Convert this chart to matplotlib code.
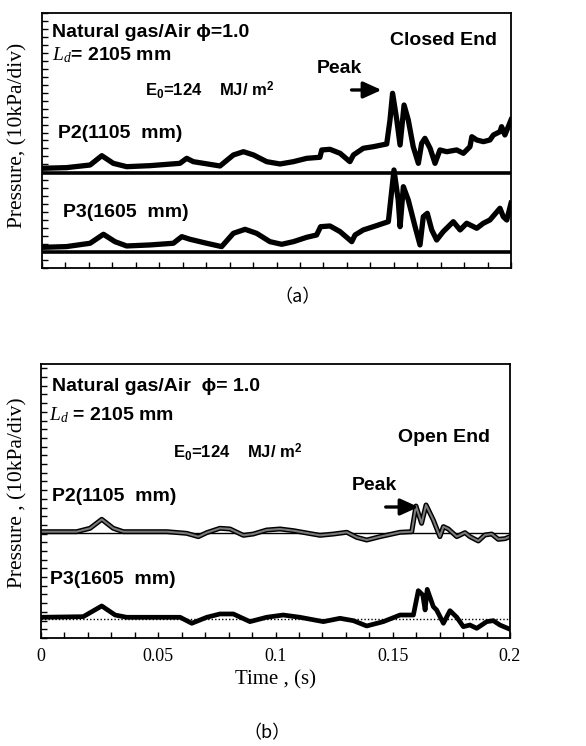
import numpy as np
import matplotlib.pyplot as plt
from matplotlib.ticker import MultipleLocator, NullFormatter

plt.rcParams.update({
    "font.family": ["Liberation Sans", "DejaVu Sans"],
    "mathtext.fontset": "custom",
    "mathtext.rm": "Liberation Sans",
    "mathtext.bf": "Liberation Sans:bold",
    "mathtext.it": "Liberation Serif:italic",
})

# ---- data (time in s, pressure in divisions) ----
# (a) closed end
t_a_p2 = [0.0, 0.0104, 0.0205, 0.0255, 0.0304, 0.0361, 0.0461, 0.0588, 0.0617, 0.0645,
          0.0759, 0.0816, 0.0859, 0.0902, 0.0958, 0.1015, 0.1072, 0.1129, 0.1185, 0.1193,
          0.1228, 0.1271, 0.1313, 0.1328, 0.1370, 0.1413, 0.1470, 0.1484, 0.1495, 0.1513,
          0.1527, 0.1544, 0.1562, 0.1583, 0.1605, 0.1619, 0.1633, 0.1655, 0.1676, 0.1697,
          0.1726, 0.1768, 0.1797, 0.1825, 0.1833, 0.1854, 0.1882, 0.1910, 0.1925, 0.1953,
          0.1960, 0.1974, 0.2000]
p_a_p2 = [12.51, 12.59, 12.92, 14.09, 13.13, 12.71, 12.84, 13.13, 13.76, 13.34,
          12.80, 14.18, 14.59, 14.18, 13.34, 13.05, 13.34, 13.76, 13.89, 14.81,
          14.89, 14.39, 13.34, 14.18, 15.02, 15.22, 15.56, 18.57, 21.92, 18.57,
          15.43, 20.45, 18.57, 15.22, 13.13, 15.64, 16.27, 15.02, 13.13, 14.81,
          14.59, 14.81, 14.39, 15.22, 16.47, 16.06, 15.85, 16.06, 16.69, 17.10,
          17.73, 16.69, 18.57]

t_a_p3 = [0.0, 0.0104, 0.0205, 0.0262, 0.0311, 0.0361, 0.0461, 0.0560, 0.0596, 0.0631,
          0.0702, 0.0766, 0.0816, 0.0866, 0.0915, 0.0972, 0.1022, 0.1072, 0.1129, 0.1171,
          0.1188, 0.1228, 0.1271, 0.1321, 0.1335, 0.1370, 0.1413, 0.1477, 0.1487, 0.1501,
          0.1519, 0.1527, 0.1541, 0.1562, 0.1591, 0.1612, 0.1626, 0.1643, 0.1662, 0.1683,
          0.1711, 0.1754, 0.1783, 0.1811, 0.1854, 0.1882, 0.1910, 0.1953, 0.1967, 0.1982,
          0.2000]
p_a_p3 = [2.59, 2.68, 3.10, 4.23, 3.30, 2.76, 2.89, 3.10, 3.93, 3.60,
          3.10, 2.68, 4.35, 4.85, 4.35, 3.30, 2.97, 3.30, 3.85, 4.14,
          5.18, 5.27, 4.56, 3.30, 4.14, 4.77, 5.18, 5.81, 8.53, 12.30,
          8.53, 5.18, 10.20, 8.53, 5.18, 2.89, 6.44, 6.86, 4.77, 3.51,
          4.56, 5.81, 4.77, 5.61, 4.98, 5.61, 6.02, 7.49, 6.44, 6.02,
          8.12]
base_a = [11.96, 2.05]

# (b) open end
t_b_p2 = [0.0, 0.0152, 0.0209, 0.0259, 0.0308, 0.0351, 0.0536, 0.0621, 0.0671, 0.0707,
          0.0763, 0.0806, 0.0863, 0.0905, 0.0962, 0.1019, 0.1076, 0.1190, 0.1247, 0.1304,
          0.1346, 0.1389, 0.1446, 0.1531, 0.1581, 0.1599, 0.1623, 0.1642, 0.1673, 0.1701,
          0.1716, 0.1737, 0.1773, 0.1808, 0.1829, 0.1865, 0.1893, 0.1922, 0.1950, 0.1979,
          0.2000]
p_b_p2 = [12.22, 12.22, 12.61, 13.64, 12.61, 12.22, 12.22, 12.03, 11.65, 12.11,
          12.61, 12.53, 11.80, 11.95, 12.41, 12.53, 12.34, 11.80, 11.95, 12.15,
          11.57, 11.26, 11.65, 12.15, 12.22, 15.17, 13.18, 15.29, 13.56, 11.65,
          12.80, 12.53, 11.65, 12.11, 11.65, 11.15, 11.84, 11.95, 11.34, 11.42,
          11.65]

t_b_p3 = [0.0, 0.0180, 0.0259, 0.0316, 0.0365, 0.0593, 0.0643, 0.0707, 0.0763, 0.0820,
          0.0891, 0.0962, 0.1033, 0.1104, 0.1204, 0.1275, 0.1332, 0.1389, 0.1460, 0.1531,
          0.1588, 0.1609, 0.1628, 0.1638, 0.1647, 0.1673, 0.1687, 0.1716, 0.1744, 0.1773,
          0.1801, 0.1829, 0.1858, 0.1901, 0.1929, 0.1957, 0.2000]
p_b_p3 = [2.38, 2.45, 3.68, 2.64, 2.38, 2.38, 1.69, 2.38, 2.76, 2.76,
          1.88, 2.38, 2.64, 2.38, 1.88, 2.26, 1.99, 1.38, 1.88, 2.64,
          2.64, 5.44, 4.94, 3.22, 5.59, 3.60, 3.22, 1.69, 3.14, 2.38,
          1.30, 1.49, 1.11, 1.88, 1.99, 1.49, 1.00]
base_b = [12.07, 2.15]

serif = ["Liberation Serif", "DejaVu Serif"]
bold = dict(fontweight="bold", fontsize=14)
arrow = dict(arrowstyle="-|>,head_length=1.1,head_width=0.5", color="black",
             lw=2.4, shrinkA=0, shrinkB=0)


def style_axes(ax, ytop):
    ax.set_xlim(0, 0.2)
    ax.set_ylim(0, ytop)
    ax.xaxis.set_major_locator(MultipleLocator(0.05))
    ax.xaxis.set_minor_locator(MultipleLocator(0.01))
    ax.yaxis.set_major_locator(MultipleLocator(1))
    ax.yaxis.set_major_formatter(NullFormatter())
    ax.tick_params(which="both", direction="in", length=4.5, width=1,
                   top=False, right=False)
    for s in ax.spines.values():
        s.set_linewidth(1.3)


fig = plt.figure(figsize=(5.86, 7.46), dpi=100)

# ---------------- (a) ----------------
ax1 = fig.add_axes([0.0717, 0.6408, 0.8003, 0.3418])
style_axes(ax1, 32)
ax1.xaxis.set_major_formatter(NullFormatter())
for b in base_a:
    ax1.axhline(b, color="black", lw=2.6)
ax1.plot(t_a_p2, p_a_p2, color="black", lw=3.8, solid_joinstyle="round")
ax1.plot(t_a_p3, p_a_p3, color="black", lw=3.8, solid_joinstyle="round")

ax1.text(0.021, 0.925, "Natural gas/Air ϕ=1.0", transform=ax1.transAxes, va="center",
         family=["Liberation Sans", "DejaVu Sans"], **bold)
ax1.text(0.021, 0.835, r"$L_d$= 2105 mm", transform=ax1.transAxes, va="center", **bold)
ax1.text(0.742, 0.894, "Closed End", transform=ax1.transAxes, va="center", **bold)
ax1.text(0.586, 0.784, "Peak", transform=ax1.transAxes, va="center", **bold)
ax1.text(0.220, 0.698, r"E$_\mathbf{0}$=124    MJ/ m$^\mathbf{2}$", transform=ax1.transAxes,
         va="center", fontweight="bold", fontsize=12)
ax1.text(0.034, 0.529, "P2(1105  mm)", transform=ax1.transAxes, va="center", **bold)
ax1.text(0.045, 0.216, "P3(1605  mm)", transform=ax1.transAxes, va="center", **bold)
ax1.annotate("", xy=(0.724, 0.698), xytext=(0.660, 0.698), xycoords="axes fraction",
             arrowprops=arrow)

# ---------------- (b) ----------------
ax2 = fig.add_axes([0.0700, 0.1448, 0.8003, 0.3673])
style_axes(ax2, 31.5)
ax2.axhline(base_b[0], color="black", lw=1.0)
ax2.axhline(base_b[1], color="black", lw=1.0, ls=(0, (1, 1.5)))
ax2.plot(t_b_p2, p_b_p2, color="black", lw=3.6, solid_joinstyle="round")
ax2.plot(t_b_p2, p_b_p2, color="#7a7a7a", lw=1.5, solid_joinstyle="round")
ax2.plot(t_b_p3, p_b_p3, color="black", lw=3.4, solid_joinstyle="round")

ax2.set_xticks([0, 0.05, 0.1, 0.15, 0.2])
ax2.set_xticklabels(["0", "0.05", "0.1", "0.15", "0.2"], family=serif, fontsize=13)
ax2.tick_params(axis="x", which="major", pad=7)
ax2.set_xlabel("Time , (s)", family=serif, fontsize=15, labelpad=4)

ax2.text(0.023, 0.916, "Natural gas/Air  ϕ= 1.0", transform=ax2.transAxes, va="center",
         family=["Liberation Sans", "DejaVu Sans"], **bold)
ax2.text(0.016, 0.814, r"$L_d$ = 2105 mm", transform=ax2.transAxes, va="center", **bold)
ax2.text(0.761, 0.730, "Open End", transform=ax2.transAxes, va="center", **bold)
ax2.text(0.281, 0.679, r"E$_\mathbf{0}$=124    MJ/ m$^\mathbf{2}$", transform=ax2.transAxes,
         va="center", fontweight="bold", fontsize=12)
ax2.text(0.663, 0.558, "Peak", transform=ax2.transAxes, va="center", **bold)
ax2.text(0.023, 0.515, "P2(1105  mm)", transform=ax2.transAxes, va="center", **bold)
ax2.text(0.019, 0.212, "P3(1605  mm)", transform=ax2.transAxes, va="center", **bold)
ax2.annotate("", xy=(0.805, 0.478), xytext=(0.735, 0.478), xycoords="axes fraction",
             arrowprops=arrow)

# y labels and panel tags
fig.text(0.031, 0.819, "Pressure, (10kPa/div)", rotation=90, ha="center", va="center",
         family=serif, fontsize=15.5)
fig.text(0.031, 0.340, "Pressure , (10kPa/div)", rotation=90, ha="center", va="center",
         family=serif, fontsize=15.5)
fig.text(0.508, 0.602, "（a）", ha="center", va="center",
         family=["Noto Sans CJK SC", "DejaVu Sans"], fontsize=13)
fig.text(0.455, 0.017, "（b）", ha="center", va="center",
         family=["Noto Sans CJK SC", "DejaVu Sans"], fontsize=13)

fig.savefig("out.png", dpi=100)
